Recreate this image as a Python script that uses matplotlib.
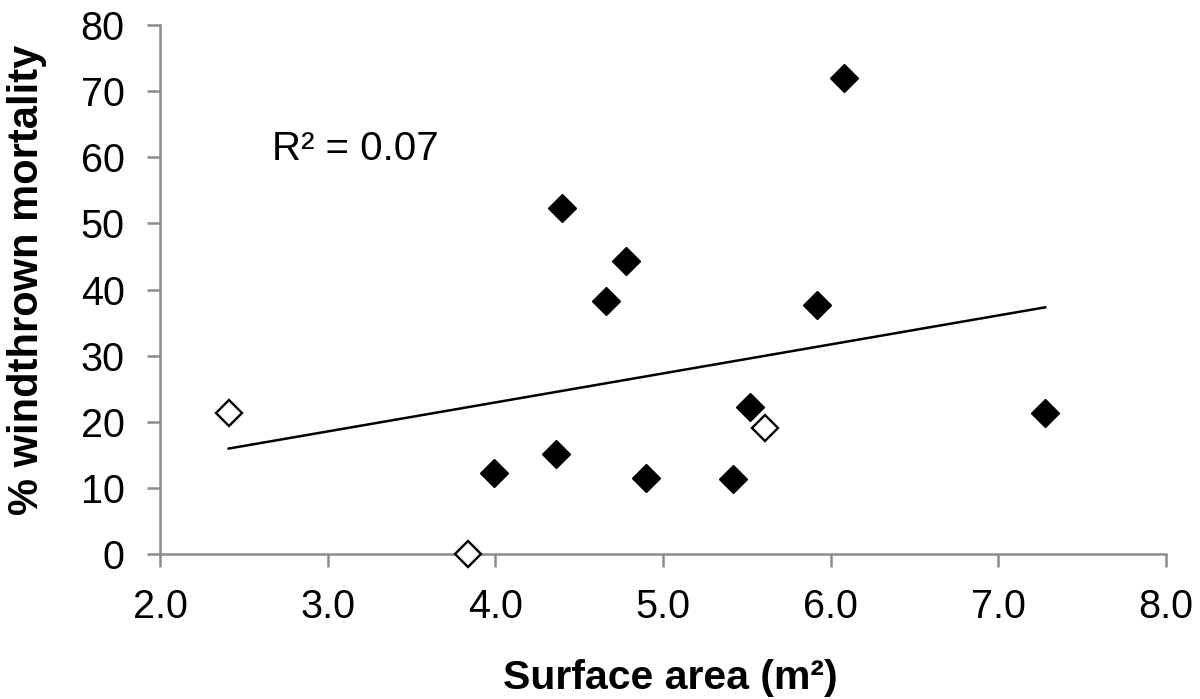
import numpy as np
import matplotlib
matplotlib.use("Agg")
import matplotlib.pyplot as plt

plt.rcParams['font.family'] = ['Liberation Sans', 'DejaVu Sans']

# Datos: superficie (m2) y % de mortalidad por viento
area_filled = [3.99, 4.36, 4.40, 4.66, 4.78, 4.90, 5.42, 5.52, 5.92, 6.08, 7.28]
mort_filled = [12.3, 15.1, 52.4, 38.2, 44.3, 11.5, 11.4, 22.2, 37.6, 72.0, 21.4]
area_open = [2.41, 3.84, 5.61]
mort_open = [21.3, 0.0, 19.0]

x_ticks = [2.0, 3.0, 4.0, 5.0, 6.0, 7.0, 8.0]
y_ticks = [0, 10, 20, 30, 40, 50, 60, 70, 80]

# Ajuste lineal con todos los puntos
x_all = np.array(area_filled + area_open)
y_all = np.array(mort_filled + mort_open)
slope, intercept = np.polyfit(x_all, y_all, 1)
pred = slope * x_all + intercept
r2 = 1 - np.sum((y_all - pred) ** 2) / np.sum((y_all - y_all.mean()) ** 2)

fig = plt.figure(figsize=(12, 6.99), dpi=100)
ax = fig.add_axes([0.1333, 0.2074, 0.8383, 0.7568])

xs = np.array([x_all.min(), x_all.max()])
ax.plot(xs, slope * xs + intercept, color='black', lw=1.8, zorder=2)

ax.plot(area_filled, mort_filled, linestyle='none', marker='D', ms=14.5,
        color='black', zorder=3, clip_on=False)
ax.plot(area_open, mort_open, linestyle='none', marker='D', ms=13,
        markerfacecolor='white', markeredgecolor='black', mew=1.7,
        zorder=3, clip_on=False)

ax.text(2.67, 61.2, "R² = %.2f" % r2, fontsize=29, va='center', ha='left')

ax.set_xlim(2.0, 8.0)
ax.set_ylim(0, 80)
ax.set_xticks(x_ticks)
ax.set_xticklabels(["%.1f" % v for v in x_ticks])
ax.set_yticks(y_ticks)
ax.set_yticklabels([str(v) for v in y_ticks])

gray = '#8c8c8c'
for side in ['top', 'right']:
    ax.spines[side].set_visible(False)
for side in ['left', 'bottom']:
    ax.spines[side].set_color(gray)
    ax.spines[side].set_linewidth(1.8)
ax.tick_params(axis='both', direction='out', length=9.5, width=1.8,
               color=gray, labelsize=28.5, labelcolor='black')
ax.tick_params(axis='x', pad=15)
ax.tick_params(axis='y', pad=16)

ax.set_xlabel("Surface area (m²)", fontsize=29.5, fontweight='bold')
ax.set_ylabel("% windthrown mortality", fontsize=30, fontweight='bold')
ax.xaxis.set_label_coords(0.507, -0.199)
ax.yaxis.set_label_coords(-0.112, 0.518)

fig.savefig("out.png", dpi=100)
